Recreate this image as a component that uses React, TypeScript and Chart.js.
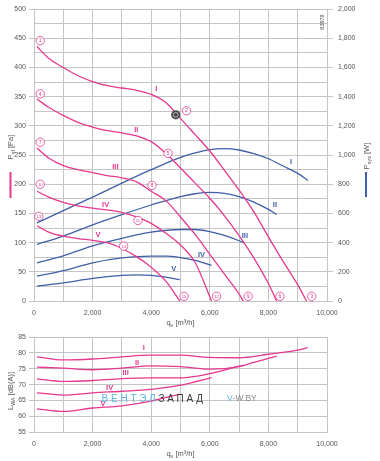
import React, { useEffect, useRef } from 'react';
import { Chart, registerables } from 'chart.js';
Chart.register(...registerables);

const FONT = '"Liberation Sans", Arial, sans-serif';
const MAGENTA = '#e5388f';
const BLUE = '#3f5fa9';
const GRID = '#c4c4c4';
const TICKCOL = '#555555';

// ---- Top chart: static pressure curves (Pa) ----
const qI = [100, 500, 1000, 1500, 2000, 2500, 3000, 3500, 4000, 4500, 5000, 5500, 6000, 6500, 7000, 7500, 8000, 8500, 9000, 9300];
const pI = [436, 416, 400, 386, 376, 369, 365, 361, 354, 340, 313, 285, 257, 224, 190, 153, 110, 68, 28, 0];
const qII = [100, 500, 1000, 1500, 2000, 2500, 3000, 3500, 4000, 4500, 5000, 5500, 6000, 6500, 7000, 7500, 8000, 8280];
const pII = [346, 332, 318, 306, 298, 292, 288, 283, 273, 253, 228, 202, 176, 146, 112, 74, 30, 0];
const qIII = [100, 500, 1000, 1500, 2000, 2500, 3000, 3500, 4000, 4500, 5000, 5500, 6000, 6500, 7000, 7140];
const pIII = [262, 245, 232, 225, 220, 215, 211, 204, 188, 172, 144, 114, 80, 46, 12, 0];
const qIV = [100, 500, 1000, 1500, 2000, 2500, 3000, 3500, 4000, 4500, 5000, 5500, 6060];
const pIV = [188, 178, 169, 163, 159, 156, 152, 144, 133, 116, 96, 66, 0];
const qV = [100, 500, 1000, 1500, 2000, 2500, 3000, 3500, 4000, 4500, 4975];
const pV = [129, 118, 111, 107, 104, 100, 90, 76, 58, 34, 0];

// ---- Top chart: power input curves (W) ----
const qwI = [100, 1000, 2000, 3000, 4000, 5000, 5500, 6000, 6500, 7000, 7500, 8000, 8500, 9000, 9350];
const wI = [535, 620, 712, 808, 900, 985, 1015, 1038, 1045, 1035, 1010, 975, 925, 875, 826];
const qwII = [100, 1000, 2000, 3000, 4000, 5000, 5500, 6000, 6500, 7000, 7500, 8000, 8280];
const wII = [388, 445, 522, 592, 658, 716, 735, 744, 738, 715, 678, 628, 593];
const qwIII = [100, 1000, 2000, 3000, 4000, 5000, 5500, 6000, 6500, 7000, 7160];
const wIII = [262, 310, 378, 430, 472, 490, 490, 476, 450, 413, 398];
const qwIV = [100, 1000, 2000, 3000, 4000, 4500, 5000, 5500, 6060];
const wIV = [170, 208, 262, 295, 308, 308, 298, 278, 244];
const qwV = [100, 1000, 2000, 3000, 3500, 4000, 4500, 4975];
const wV = [102, 124, 155, 175, 179, 175, 163, 146];

// ---- Bottom chart: sound power level dB(A) ----
const qlI = [100, 1000, 2000, 3000, 4000, 5000, 6000, 7000, 8000, 9000, 9340];
const lI = [78.8, 77.8, 78.1, 78.8, 79.3, 79.3, 78.6, 78.5, 79.6, 80.9, 81.7];
const qlII = [100, 1000, 2000, 3000, 4000, 5000, 6000, 7000, 7500, 8000, 8280];
const lII = [75.5, 75.2, 74.7, 75.2, 75.9, 75.7, 74.9, 75.7, 77.0, 78.3, 79.0];
const qlIII = [100, 1000, 2000, 3000, 4000, 5000, 5500, 6000, 6500, 7140];
const lIII = [71.8, 71.0, 71.3, 71.9, 72.1, 72.1, 72.6, 73.5, 74.6, 76.2];
const qlIV = [100, 1000, 2000, 3000, 4000, 5000, 5500, 6060];
const lIV = [67.4, 66.7, 67.4, 67.9, 68.5, 69.8, 70.9, 72.2];
const qlV = [100, 1000, 2000, 3000, 4000, 4975];
const lV = [62.3, 61.5, 62.6, 63.3, 64.8, 67.0];

// ---- Labels ----
const curveNames = ['I', 'II', 'III', 'IV', 'V'];
const pressLabelQ = [4178, 3494, 2776, 2445, 2181];
const pressLabelP = [364, 293, 230, 165, 114];
const powerLabelQ = [8770, 8223, 7197, 5717, 4770];
const powerLabelW = [951, 659, 449, 319, 222];
const noiseLabelQ = [3744, 3515, 3128, 2581, 2352];
const noiseLabelL = [81.7, 76.9, 73.8, 68.8, 63.8];

const markerNums = [1, 2, 3, 4, 5, 6, 7, 8, 9, 10, 11, 12, 13, 14, 15];
const markerQ = [212, 5203, 9477, 212, 4575, 8394, 212, 4028, 7310, 212, 3549, 6230, 164, 3060, 5122];
const markerP = [446, 326, 8, 355, 253, 8, 272, 198, 8, 200, 138, 8, 145, 94, 8];
const opQ = 4838;
const opP = 319;

const pts = (xs: number[], ys: number[]) => xs.map((x, i) => ({ x, y: ys[i] }));

type Part = { t: string; sub?: boolean };
function drawRich(ctx: CanvasRenderingContext2D, parts: Part[], x: number, y: number, rot: number, size: number, color: string) {
  ctx.save();
  ctx.translate(x, y);
  if (rot) ctx.rotate(rot);
  const big = `${size}px ${FONT}`;
  const small = `${(size * 0.72).toFixed(2)}px ${FONT}`;
  let w = 0;
  for (const p of parts) { ctx.font = p.sub ? small : big; w += ctx.measureText(p.t).width; }
  let cx = -w / 2;
  ctx.fillStyle = color;
  ctx.textAlign = 'left';
  ctx.textBaseline = 'alphabetic';
  for (const p of parts) {
    ctx.font = p.sub ? small : big;
    ctx.fillText(p.t, cx, size * 0.36 + (p.sub ? size * 0.25 : 0));
    cx += ctx.measureText(p.t).width;
  }
  ctx.restore();
}

const tickFont = { family: FONT, size: 7 };

const topDecor = {
  id: 'topDecor',
  afterDatasetsDraw(chart: any) {
    const { ctx } = chart;
    const x = chart.scales.x, y = chart.scales.y, y2 = chart.scales.y2;
    ctx.save();
    ctx.font = `bold 7.5px ${FONT}`;
    ctx.textAlign = 'center';
    ctx.textBaseline = 'middle';
    curveNames.forEach((n, i) => {
      ctx.fillStyle = MAGENTA;
      ctx.fillText(n, x.getPixelForValue(pressLabelQ[i]), y.getPixelForValue(pressLabelP[i]));
      ctx.fillStyle = BLUE;
      ctx.fillText(n, x.getPixelForValue(powerLabelQ[i]), y2.getPixelForValue(powerLabelW[i]));
    });
    markerNums.forEach((n, i) => {
      const px = x.getPixelForValue(markerQ[i]);
      const py = y.getPixelForValue(markerP[i]);
      ctx.beginPath();
      ctx.arc(px, py, 4.2, 0, Math.PI * 2);
      ctx.fillStyle = '#ffffff';
      ctx.fill();
      ctx.lineWidth = 0.8;
      ctx.strokeStyle = MAGENTA;
      ctx.stroke();
      ctx.fillStyle = MAGENTA;
      ctx.font = `${n >= 10 ? 4.2 : 5.2}px ${FONT}`;
      ctx.fillText(String(n), px, py + 0.3);
    });
    // operating point marker
    const ox = x.getPixelForValue(opQ), oy = y.getPixelForValue(opP);
    ctx.beginPath();
    ctx.arc(ox, oy, 4.6, 0, Math.PI * 2);
    ctx.fillStyle = '#4a4a4a';
    ctx.fill();
    ctx.beginPath();
    ctx.arc(ox, oy, 2.4, 0, Math.PI * 2);
    ctx.lineWidth = 0.9;
    ctx.strokeStyle = '#bdbdbd';
    ctx.stroke();
    ctx.restore();

    // titles
    const cxm = (chart.chartArea.left + chart.chartArea.right) / 2;
    drawRich(ctx, [{ t: 'q' }, { t: 'v', sub: true }, { t: ' [m³/h]' }], cxm, 322, 0, 7.5, TICKCOL);
    drawRich(ctx, [{ t: 'P' }, { t: 'sf', sub: true }, { t: ' [Pa]' }], 10.5, 147, -Math.PI / 2, 7.5, TICKCOL);
    drawRich(ctx, [{ t: 'P' }, { t: 'sys', sub: true }, { t: ' [W]' }], 366, 156, -Math.PI / 2, 7.5, TICKCOL);
    ctx.save();
    ctx.fillStyle = MAGENTA;
    ctx.fillRect(9.5, 172, 2, 26);
    ctx.fillStyle = BLUE;
    ctx.fillRect(365, 172, 2, 25);
    ctx.restore();
    drawRich(ctx, [{ t: '83978' }], 322, 22, -Math.PI / 2, 5.5, TICKCOL);
  },
};

const botDecor = {
  id: 'botDecor',
  afterDatasetsDraw(chart: any) {
    const { ctx } = chart;
    const x = chart.scales.x, y = chart.scales.y;
    ctx.save();
    ctx.font = `bold 7.5px ${FONT}`;
    ctx.textAlign = 'center';
    ctx.textBaseline = 'middle';
    ctx.fillStyle = MAGENTA;
    curveNames.forEach((n, i) => {
      ctx.fillText(n, x.getPixelForValue(noiseLabelQ[i]), y.getPixelForValue(noiseLabelL[i]));
    });
    // watermark
    ctx.textAlign = 'left';
    ctx.font = `10px ${FONT}`;
    (ctx as any).letterSpacing = '2.8px';
    let wx = 101.5;
    const wy = 69;
    ctx.fillStyle = '#5bb6e6';
    ctx.fillText('ВЕНТЭЛ', wx, wy);
    wx += ctx.measureText('ВЕНТЭЛ').width;
    ctx.fillStyle = '#3c3c3c';
    ctx.fillText('ЗАПАД', wx, wy);
    (ctx as any).letterSpacing = '0px';
    ctx.font = `8.5px ${FONT}`;
    ctx.fillStyle = '#5bb6e6';
    ctx.fillText('V', 227, wy);
    const vw = ctx.measureText('V').width;
    ctx.fillStyle = '#8a8a8a';
    ctx.fillText('-W.BY', 227 + vw, wy);
    ctx.restore();

    const cxm = (chart.chartArea.left + chart.chartArea.right) / 2;
    drawRich(ctx, [{ t: 'q' }, { t: 'v', sub: true }, { t: ' [m³/h]' }], cxm, 123, 0, 7.5, TICKCOL);
    drawRich(ctx, [{ t: 'L' }, { t: 'WA', sub: true }, { t: ' [dB(A)]' }], 10.5, 61, -Math.PI / 2, 7.5, TICKCOL);
  },
};

const lineDs = (label: string, data: any[], color: string, axis: string) => ({
  label,
  data,
  borderColor: color,
  backgroundColor: color,
  borderWidth: 1.3,
  pointRadius: 0,
  cubicInterpolationMode: 'monotone' as const,
  yAxisID: axis,
  fill: false,
});

const xScale = (h: number) => ({
  type: 'linear' as const,
  min: 0,
  max: 10000,
  ticks: {
    stepSize: 1000,
    autoSkip: false,
    maxRotation: 0,
    padding: 8,
    font: tickFont,
    color: TICKCOL,
    callback: (v: any) => (Number(v) % 2000 === 0 ? Number(v).toLocaleString('en-US') : ''),
  },
  grid: { color: GRID, lineWidth: 1, drawTicks: false },
  border: { color: GRID },
  afterFit: (s: any) => { s.height = h; },
});

export default function App() {
  const topRef = useRef<HTMLCanvasElement>(null);
  const botRef = useRef<HTMLCanvasElement>(null);

  useEffect(() => {
    const top = new Chart(topRef.current as HTMLCanvasElement, {
      type: 'line',
      data: {
        datasets: [
          lineDs('pI', pts(qI, pI), MAGENTA, 'y'),
          lineDs('pII', pts(qII, pII), MAGENTA, 'y'),
          lineDs('pIII', pts(qIII, pIII), MAGENTA, 'y'),
          lineDs('pIV', pts(qIV, pIV), MAGENTA, 'y'),
          lineDs('pV', pts(qV, pV), MAGENTA, 'y'),
          lineDs('wI', pts(qwI, wI), BLUE, 'y2'),
          lineDs('wII', pts(qwII, wII), BLUE, 'y2'),
          lineDs('wIII', pts(qwIII, wIII), BLUE, 'y2'),
          lineDs('wIV', pts(qwIV, wIV), BLUE, 'y2'),
          lineDs('wV', pts(qwV, wV), BLUE, 'y2'),
        ],
      },
      options: {
        responsive: false,
        maintainAspectRatio: false,
        animation: false,
        layout: { padding: { top: 8, left: 0, right: 0, bottom: 0 } },
        plugins: { legend: { display: false }, tooltip: { enabled: false }, title: { display: false } },
        scales: {
          x: xScale(29) as any,
          y: {
            type: 'linear',
            position: 'left',
            min: 0,
            max: 500,
            ticks: {
              stepSize: 25,
              padding: 3,
              font: tickFont,
              color: TICKCOL,
              callback: (v: any) => (Number(v) % 50 === 0 ? String(v) : ''),
            },
            grid: {
              color: GRID,
              tickLength: 5,
              tickColor: (c: any) => (c.tick && c.tick.value % 50 === 0 ? GRID : 'rgba(0,0,0,0)'),
            },
            border: { color: GRID },
            afterFit: (s: any) => { s.width = 34; },
          } as any,
          y2: {
            type: 'linear',
            position: 'right',
            min: 0,
            max: 2000,
            ticks: {
              stepSize: 200,
              padding: 5,
              font: tickFont,
              color: TICKCOL,
              callback: (v: any) => Number(v).toLocaleString('en-US'),
            },
            grid: { drawOnChartArea: false, tickLength: 6, color: GRID },
            border: { color: GRID },
            afterFit: (s: any) => { s.width = 53; },
          } as any,
        },
      },
      plugins: [topDecor],
    });

    const bot = new Chart(botRef.current as HTMLCanvasElement, {
      type: 'line',
      data: {
        datasets: [
          lineDs('lI', pts(qlI, lI), MAGENTA, 'y'),
          lineDs('lII', pts(qlII, lII), MAGENTA, 'y'),
          lineDs('lIII', pts(qlIII, lIII), MAGENTA, 'y'),
          lineDs('lIV', pts(qlIV, lIV), MAGENTA, 'y'),
          lineDs('lV', pts(qlV, lV), MAGENTA, 'y'),
        ],
      },
      options: {
        responsive: false,
        maintainAspectRatio: false,
        animation: false,
        layout: { padding: { top: 5, left: 0, right: 53, bottom: 0 } },
        plugins: { legend: { display: false }, tooltip: { enabled: false } },
        scales: {
          x: xScale(29) as any,
          y: {
            type: 'linear',
            position: 'left',
            min: 55,
            max: 85,
            ticks: { stepSize: 5, padding: 3, font: tickFont, color: TICKCOL },
            grid: { color: GRID, tickLength: 5 },
            border: { color: GRID },
            afterFit: (s: any) => { s.width = 34; },
          } as any,
        },
      },
      plugins: [botDecor],
    });

    return () => {
      top.destroy();
      bot.destroy();
    };
  }, []);

  return (
    <div style={{ position: 'absolute', left: 0, top: 0, width: 380, height: 461, background: '#ffffff' }}>
      <canvas ref={topRef} width={380} height={330} style={{ position: 'absolute', left: 0, top: 0 }} />
      <canvas ref={botRef} width={380} height={131} style={{ position: 'absolute', left: 0, top: 330 }} />
    </div>
  );
}
